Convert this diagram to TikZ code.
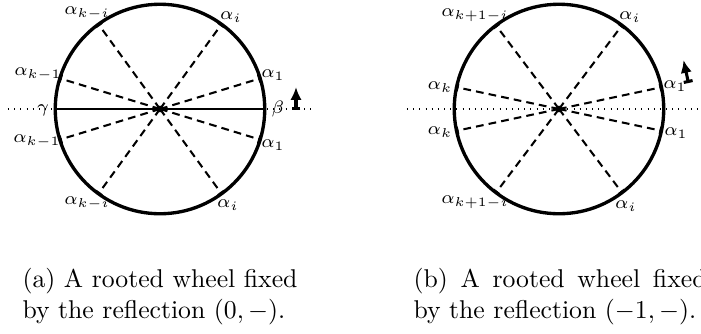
\documentclass[tikz,border=0pt]{standalone}
\usepackage{tikz}
\usepackage{amsmath}
\usetikzlibrary{arrows.meta, shapes.geometric}

\begin{document}
\begin{tikzpicture}[
  x=0.389pt, y=0.389pt,
  wheel/.style={circle, draw, line width=1.3pt, minimum size=81.5pt, inner sep=0pt, outer sep=0pt},
  hub/.style={circle, fill, inner sep=0pt, minimum size=2.6pt},
  spoke/.style={line width=0.8pt, dash pattern=on 3pt off 2pt, -{Bar[width=3pt]}},
  axle/.style={line width=0.8pt},
  fixline/.style={dotted, line width=0.4pt},
  sense/.style={line width=1.2pt, {Bar[width=3.5pt]}-{Latex[length=5pt, width=4.4pt]}},
  lbl/.style={font=\scriptsize, inner sep=0pt},
  subcap/.style={align=left, inner sep=0pt}
]
\useasboundingbox (0,0) rectangle (701,333);

% (a) reflection through the root
\coordinate (fa0) at (8,224);
\coordinate (fa1) at (312,224);
\draw[fixline] (fa0) -- (fa1);
\node[wheel] (wa) at (160,224) {};
\node[hub] (ha) at (wa.center) {};
\draw[axle] (wa.180) -- (wa.0);
\draw[spoke] (ha.center) -- (wa.17);
\draw[spoke] (ha.center) -- (wa.54);
\draw[spoke] (ha.center) -- (wa.126);
\draw[spoke] (ha.center) -- (wa.163);
\draw[spoke] (ha.center) -- (wa.197);
\draw[spoke] (ha.center) -- (wa.234);
\draw[spoke] (ha.center) -- (wa.306);
\draw[spoke] (ha.center) -- (wa.343);
\node[lbl] (aki1) at (87,320) {$\alpha_{k-i}$};
\node[lbl] (ai1) at (231,316) {$\alpha_i$};
\node[lbl] (akm1) at (38,259) {$\alpha_{k-1}$};
\node[lbl] (a11) at (273,258) {$\alpha_1$};
\node[lbl] (gam) at (43,223) {$\gamma$};
\node[lbl] (bet) at (278,224) {$\beta$};
\node[lbl] (akm2) at (37,192) {$\alpha_{k-1}$};
\node[lbl] (a12) at (273,188) {$\alpha_1$};
\node[lbl] (aki2) at (87,130) {$\alpha_{k-i}$};
\node[lbl] (ai2) at (228,128) {$\alpha_i$};
\coordinate (sa0) at (296,223);
\coordinate (sa1) at (296,246);
\draw[sense] (sa0) -- (sa1);
\node[subcap, anchor=north west] (capa) at (22,65)
  {(a) A rooted wheel fixed\\by the reflection $(0,-)$.};

% (b) reflection through the middle of an edge
\coordinate (fb0) at (407,224);
\coordinate (fb1) at (711,224);
\draw[fixline] (fb0) -- (fb1);
\node[wheel] (wb) at (559,224) {};
\node[hub] (hb) at (wb.center) {};
\draw[spoke] (hb.center) -- (wb.12);
\draw[spoke] (hb.center) -- (wb.53);
\draw[spoke] (hb.center) -- (wb.127);
\draw[spoke] (hb.center) -- (wb.168);
\draw[spoke] (hb.center) -- (wb.192);
\draw[spoke] (hb.center) -- (wb.233);
\draw[spoke] (hb.center) -- (wb.307);
\draw[spoke] (hb.center) -- (wb.348);
\node[lbl] (bki1) at (475,318) {$\alpha_{k+1-i}$};
\node[lbl] (bi1) at (630,316) {$\alpha_i$};
\node[lbl] (bk1) at (440,246) {$\alpha_k$};
\node[lbl] (b11) at (675,247) {$\alpha_1$};
\node[lbl] (bk2) at (440,201) {$\alpha_k$};
\node[lbl] (b12) at (676,200) {$\alpha_1$};
\node[lbl] (bki2) at (475,131) {$\alpha_{k+1-i}$};
\node[lbl] (bi2) at (626,127) {$\alpha_i$};
\coordinate (sb0) at (688.5,250);
\coordinate (sb1) at (683.5,273);
\draw[sense] (sb0) -- (sb1);
\node[subcap, anchor=north west] (capb) at (413,65)
  {\makebox[114pt][s]{(b) A rooted wheel fixed}\\by the reflection $(-1,-)$.};
\end{tikzpicture}
\end{document}
